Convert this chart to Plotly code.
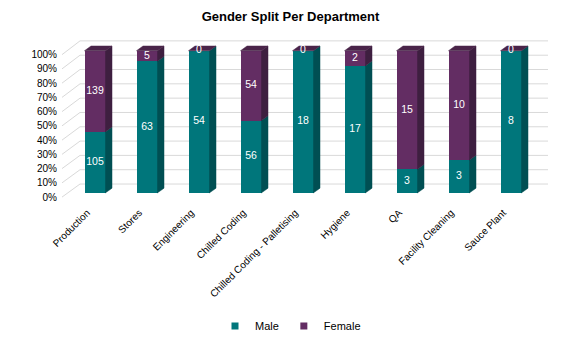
import plotly.graph_objects as go

categories = ["Production", "Stores", "Engineering", "Chilled Coding",
              "Chilled Coding - Palletising", "Hygiene", "QA",
              "Facility Cleaning", "Sauce Plant"]
male = [105, 63, 54, 56, 18, 17, 3, 3, 8]
female = [139, 5, 0, 54, 0, 2, 15, 10, 0]
y_ticks = [0, 10, 20, 30, 40, 50, 60, 70, 80, 90, 100]

FONT = "Liberation Sans, Arial, sans-serif"
TEAL, TEAL_D = "#00767B", "#004F53"
PURP, PURP_D, PURP_T = "#632D63", "#3E1F40", "#4A2449"

# pixel <-> data helpers (layout geometry)
PX0, PXU = 95.0, 52.0        # x pixel of category 0, pixels per category
PY0, PYU = 195.7, 1.447      # y pixel of 0 %, pixels per percent


def dx(px):
    return (px - PX0) / PXU


def dy(py):
    return (PY0 - py) / PYU


W = 21 / PXU          # front face width
DX = 6.5 / PXU        # depth offset x
DY = 4.8 / PYU        # depth offset y

n = len(categories)
tot = [m + f for m, f in zip(male, female)]
male_pct = [100 * m / t for m, t in zip(male, tot)]
fem_pct = [100 * f / t for f, t in zip(female, tot)]
xs = list(range(n))

fig = go.Figure()

# front faces
fig.add_trace(go.Bar(x=xs, y=male_pct, width=W, marker=dict(color=TEAL, line=dict(width=0)),
                     showlegend=False, hoverinfo="skip"))
fig.add_trace(go.Bar(x=xs, y=fem_pct, width=W, marker=dict(color=PURP, line=dict(width=0)),
                     showlegend=False, hoverinfo="skip"))


def side_poly(x, y0, y1):
    xr = x + W / 2
    return [xr, xr + DX, xr + DX, xr, xr, None], [y0, y0 + DY, y1 + DY, y1, y0, None]


sm_x, sm_y, sf_x, sf_y, t_x, t_y = [], [], [], [], [], []
for i in xs:
    a, b = side_poly(i, 0, male_pct[i])
    sm_x += a; sm_y += b
    if fem_pct[i] > 0:
        a, b = side_poly(i, male_pct[i], 100)
        sf_x += a; sf_y += b
    xl, xr = i - W / 2, i + W / 2
    t_x += [xl, xl + DX, xr + DX, xr, xl, None]
    t_y += [100, 100 + DY, 100 + DY, 100, 100, None]

for px_, py_, col in [(sm_x, sm_y, TEAL_D), (sf_x, sf_y, PURP_D), (t_x, t_y, PURP_T)]:
    fig.add_trace(go.Scatter(x=px_, y=py_, mode="lines", fill="toself", fillcolor=col,
                             line=dict(color=col, width=0.5), showlegend=False,
                             hoverinfo="skip"))

# data labels
lab_x, lab_y, lab_t = [], [], []
for i in xs:
    lab_x.append(i); lab_y.append(male_pct[i] / 2); lab_t.append(str(male[i]))
    lab_x.append(i); lab_y.append(male_pct[i] + fem_pct[i] / 2); lab_t.append(str(female[i]))
fig.add_trace(go.Scatter(x=lab_x, y=lab_y, text=lab_t, mode="text",
                         textfont=dict(color="white", size=10.5, family=FONT),
                         showlegend=False, hoverinfo="skip"))

# legend entries
fig.add_trace(go.Scatter(x=[None], y=[None], mode="markers", name="Male",
                         marker=dict(symbol="square", size=7, color=TEAL)))
fig.add_trace(go.Scatter(x=[None], y=[None], mode="markers", name="Female",
                         marker=dict(symbol="square", size=7, color=PURP)))

# 3D-style gridlines (side wall + back wall)
shapes = []
for v in y_ticks:
    fy = dy(200 - 1.45 * v)
    by = dy(186.7 - 1.457 * v)
    shapes.append(dict(type="line", xref="x", yref="y", x0=dx(62), y0=fy, x1=dx(80), y1=by,
                       line=dict(color="#D9D9D9", width=1), layer="below"))
    shapes.append(dict(type="line", xref="x", yref="y", x0=dx(80), y0=by, x1=dx(548), y1=by,
                       line=dict(color="#D9D9D9", width=1), layer="below"))

L, R, T, B = 58, 560, 35, 203
fig.update_layout(
    width=581, height=343,
    margin=dict(l=L, r=581 - R, t=T, b=343 - B),
    paper_bgcolor="white", plot_bgcolor="white",
    barmode="stack", bargap=0,
    font=dict(family=FONT, size=10, color="#404040"),
    title=dict(text="<b>Gender Split Per Department</b>", x=0.5, xref="container",
               xanchor="center", y=1 - 16 / 343, yref="container", yanchor="middle",
               font=dict(size=13, color="black", family=FONT)),
    xaxis=dict(range=[dx(L), dx(R)], tickvals=[i - 0.15 for i in xs], ticktext=categories,
               tickangle=-45, showgrid=False, zeroline=False, showline=False, ticks="",
               ticklabelstandoff=4, tickfont=dict(size=10, color="black")),
    yaxis=dict(range=[dy(B), dy(T)], tickvals=[dy(200 - 1.45 * v) for v in y_ticks],
               ticktext=[f"{v}%" for v in y_ticks], showgrid=False, zeroline=False,
               showline=False, ticks="", tickfont=dict(size=10, color="black")),
    legend=dict(orientation="h", x=0.5, xref="container", xanchor="center",
                y=1 - 326 / 343, yref="container", yanchor="middle", traceorder="normal",
                font=dict(size=11, color="black"), itemwidth=30),
    shapes=shapes,
)

fig.write_html("out.html")
